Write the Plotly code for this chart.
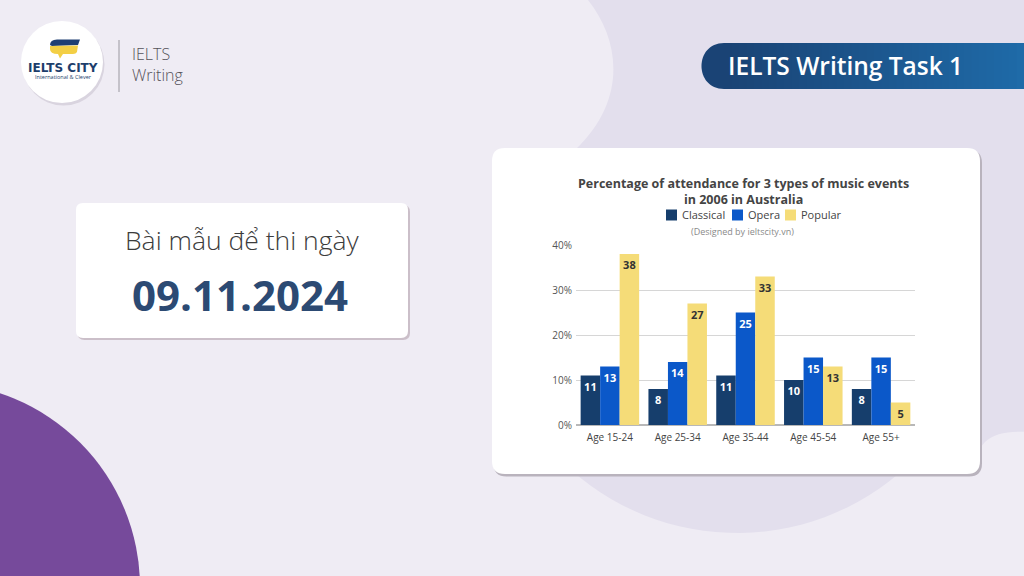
import numpy as np
import plotly.graph_objects as go

W, H = 1024, 576

# ---------------- data ----------------
categories = ["Age 15-24", "Age 25-34", "Age 35-44", "Age 45-54", "Age 55+"]
series_names = ["Classical", "Opera", "Popular"]
classical = [11, 8, 11, 10, 8]
opera = [13, 14, 25, 15, 15]
popular = [38, 27, 33, 13, 5]
y_ticks = [0, 10, 20, 30, 40]
y_tick_labels = ["0%", "10%", "20%", "30%", "40%"]

chart_title = "Percentage of attendance for 3 types of music events<br>in 2006 in Australia"
subtitle = "(Designed by ieltscity.vn)"

# ---------------- style ----------------
FONT = "Open Sans"
BG = "#efecf4"
BG_DARK = "#e3dfed"
PURPLE = "#764a9b"
NAVY = "#1d3e6c"
colors = ["#163e6c", "#0b58c9", "#f5dc78"]
label_colors = ["white", "white", "#333333"]


def X(x):
    return x / W


def Y(y):
    return 1 - y / H


def pt(x, y):
    return f"{X(x):.5f},{Y(y):.5f}"


def rrect(x0, y0, x1, y1, r):
    return (f"M {pt(x0 + r, y0)} L {pt(x1 - r, y0)} Q {pt(x1, y0)} {pt(x1, y0 + r)} "
            f"L {pt(x1, y1 - r)} Q {pt(x1, y1)} {pt(x1 - r, y1)} "
            f"L {pt(x0 + r, y1)} Q {pt(x0, y1)} {pt(x0, y1 - r)} "
            f"L {pt(x0, y0 + r)} Q {pt(x0, y0)} {pt(x0 + r, y0)} Z")


def pshape(path, fill, layer="below"):
    return dict(type="path", xref="paper", yref="paper", path=path,
                fillcolor=fill, line=dict(width=0), layer=layer)


shapes = []

# darker background region (upper right, with circular bottom)
cx, cy, r = 737, 283, 250
ang = np.linspace(np.radians(140), np.radians(30), 40)
arc = " ".join(f"L {pt(cx + r*np.cos(a), cy + r*np.sin(a))}" for a in ang)
dark_path = (f"M {pt(588, -2)} L {pt(588, 0)} C {pt(620, 40)} {pt(628, 100)} {pt(575, 150)} "
             f"L {pt(546, 443)} {arc} L {pt(970, 460)} L {pt(985, 442)} "
             f"Q {pt(998, 430)} {pt(1026, 432)} L {pt(1026, -2)} Z")
shapes.append(pshape(dark_path, BG_DARK))

# purple circle bottom-left
pcx, pcy, pr = -64, 587, 204
shapes.append(dict(type="circle", xref="paper", yref="paper",
                   x0=X(pcx - pr), x1=X(pcx + pr), y0=Y(pcy + pr), y1=Y(pcy - pr),
                   fillcolor=PURPLE, line=dict(width=0), layer="below"))

# logo circle
for (ox, oy, col) in [(1.5, 2.5, "#d9d4df"), (0, 0, "white")]:
    shapes.append(dict(type="circle", xref="paper", yref="paper",
                       x0=X(21 + ox), x1=X(103 + ox), y0=Y(103 + oy), y1=Y(21 + oy),
                       fillcolor=col, line=dict(width=0), layer="below"))
# book icon
shapes.append(pshape(f"M {pt(50, 45)} Q {pt(50, 40)} {pt(57, 39.5)} L {pt(80, 39.5)} "
                     f"L {pt(78, 45)} L {pt(52, 46)} Z", "#1f3f73"))
shapes.append(pshape(f"M {pt(50, 46)} L {pt(78, 45.5)} L {pt(77, 52)} Q {pt(76, 54)} {pt(73, 54)} "
                     f"L {pt(63, 54)} L {pt(60, 58.5)} L {pt(58, 54)} Q {pt(50, 54)} {pt(50, 49)} Z",
                     "#f3cf45"))
# separator line
shapes.append(dict(type="line", xref="paper", yref="paper", x0=X(119), x1=X(119),
                   y0=Y(40), y1=Y(92), line=dict(color="#9a98a0", width=1), layer="below"))

# gradient pill
c0 = np.array([0x1a, 0x43, 0x75])
c1 = np.array([0x1f, 0x6b, 0xa8])
pill_y0, pill_y1, pill_x0 = 43, 89, 701
rad = 23
shapes.append(pshape(f"M {pt(pill_x0 + rad + 1, pill_y0)} L {pt(pill_x0 + rad, pill_y0)} "
                     f"C {pt(pill_x0 - 7, pill_y0)} {pt(pill_x0 - 7, pill_y1)} {pt(pill_x0 + rad, pill_y1)} "
                     f"L {pt(pill_x0 + rad + 1, pill_y1)} Z", "#1a4375"))
nstrip = 40
xs = np.linspace(pill_x0 + rad, W, nstrip + 1)
for i in range(nstrip):
    t = i / (nstrip - 1)
    c = (c0 + (c1 - c0) * t).astype(int)
    shapes.append(dict(type="rect", xref="paper", yref="paper",
                       x0=X(xs[i]), x1=X(xs[i + 1] + 0.6), y0=Y(pill_y1), y1=Y(pill_y0),
                       fillcolor=f"rgb({c[0]},{c[1]},{c[2]})", line=dict(width=0), layer="below"))

# date card
shapes.append(pshape(rrect(77.5, 205, 410, 340, 7), "#cbbfc9"))
shapes.append(pshape(rrect(76, 203, 408, 338, 7), "white"))

# chart card
shapes.append(pshape(rrect(493.5, 150, 982, 476.5, 13), "#b9b3bd"))
shapes.append(pshape(rrect(492, 148, 980, 474, 13), "white"))

# manual legend squares
legend_x = [666, 732, 785]
for lx, col in zip(legend_x, colors):
    shapes.append(dict(type="rect", xref="paper", yref="paper",
                       x0=X(lx), x1=X(lx + 11), y0=Y(220.5), y1=Y(209.5),
                       fillcolor=col, line=dict(width=0), layer="above"))

annotations = []


def ann(text, x, y, size, color, xanchor="center", weight="normal", family=FONT):
    annotations.append(dict(text=text, x=X(x), y=Y(y), xref="paper", yref="paper",
                            xanchor=xanchor, yanchor="middle", showarrow=False,
                            font=dict(family=family, size=size, color=color, weight=weight)))


ann("IELTS CITY", 63, 67.5, 12, NAVY, weight="bold", family="DejaVu Sans")
ann("International &amp; Clever", 63, 77, 5.5, NAVY)
ann("IELTS", 130, 54, 16, "#55535a", xanchor="left", weight=300)
ann("Writing", 130, 75, 16, "#55535a", xanchor="left", weight=300)
ann("IELTS Writing Task 1", 845, 65.5, 24.5, "white", weight=600)
ann("Bài mẫu để thi ngày", 242, 240, 26.5, "#3c3c3c", weight=300)
ann("09.11.2024", 240, 294, 42, "#2c4a73", weight="bold")
ann(chart_title, 743, 191, 12.5, "#444444", weight="bold")
ann(subtitle, 742, 231, 9, "#8a8a8a")
for lx, name in zip(legend_x, series_names):
    ann(name, lx + 13.5, 215, 11, "#444444", xanchor="left")

fig = go.Figure()
for name, vals, col, lcol in zip(series_names, [classical, opera, popular], colors, label_colors):
    fig.add_trace(go.Bar(
        x=categories, y=vals, name=name, marker=dict(color=col, line=dict(width=0)),
        text=[str(v) for v in vals], textposition="inside", insidetextanchor="end",
        textangle=0, constraintext="none",
        textfont=dict(family=FONT, size=11, color=lcol, weight="bold"),
        showlegend=False, hoverinfo="skip"))

fig.update_layout(
    template="none",
    width=W, height=H, margin=dict(l=0, r=0, t=0, b=0, pad=0, autoexpand=False),
    paper_bgcolor=BG, plot_bgcolor="rgba(0,0,0,0)",
    barmode="group", bargap=0.137, bargroupgap=0,
    font=dict(family=FONT, color="#555555"),
    shapes=shapes, annotations=annotations, showlegend=False,
    xaxis=dict(domain=[X(576), X(915)], showgrid=False, zeroline=False, automargin=False,
               showline=False, ticks="", tickfont=dict(size=10, color="#444444"),
               ticklabelstandoff=5, fixedrange=True),
    yaxis=dict(domain=[Y(425), Y(245)], range=[0, 40], tickvals=y_ticks, automargin=False,
               ticktext=y_tick_labels, showgrid=True, gridcolor="#d6d6d6", gridwidth=1,
               zeroline=True, zerolinecolor="#b8b8b8", zerolinewidth=1.5,
               showline=False, ticks="", tickfont=dict(size=10, color="#555555"),
               ticklabelstandoff=3, fixedrange=True),
)

fig.write_html("out.html")
